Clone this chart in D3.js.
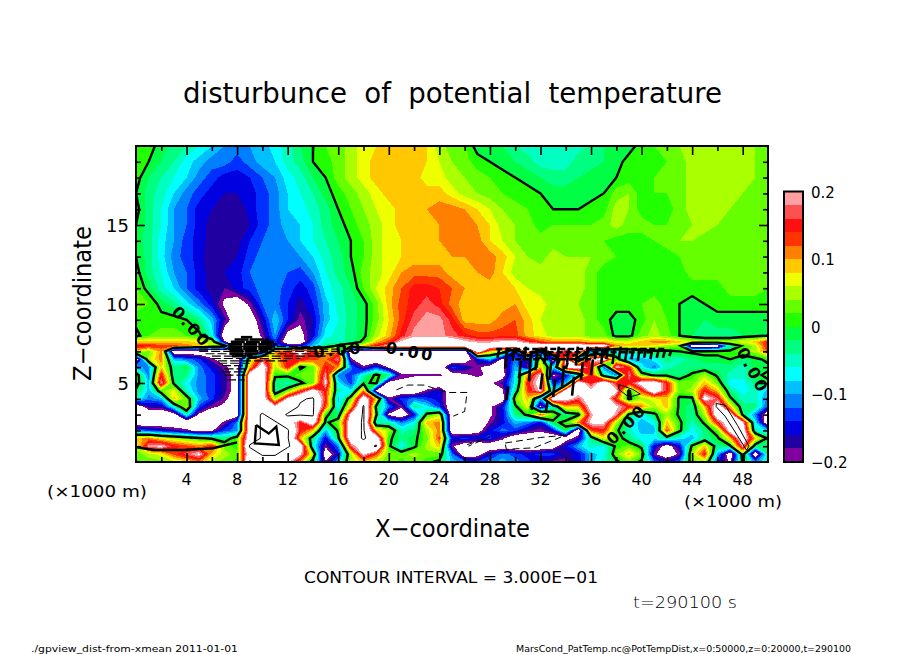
<!DOCTYPE html>
<html><head><meta charset="utf-8">
<script src="https://cdn.jsdelivr.net/npm/d3@7"></script>
<style>html,body{margin:0;background:#fff}svg{display:block}text{font-family:"DejaVu Sans";fill:#000}</style>
</head><body><svg id="c" width="904" height="654"></svg>
<script>
const zLevels=[20,19,18,17,16,15,14,13,12,11,10,9,8,7.6,7.35,7,6.5,6,5.5,5,4.5,4,3.5,3,2.5,2,1.5,1,0.5,0];
const xTicks=[4,8,12,16,20,24,28,32,36,40,44,48];
const zTicks=[5,10,15];
const barLabels=["0.2","0.1","0","−0.1","−0.2"];
const barValues=[0.2,0.1,0,-0.1,-0.2];
const bandColors=["#8000a0","#2000a0","#0000e0","#0030ff","#0080ff","#00bfff","#00ffff","#00ffc0","#00ff80","#00ff44","#22ff00","#66ff00","#aaff00","#eeff00","#ffc800","#ff8000","#ff3300","#ff1010","#ff5050","#ffa0a0"];
// potential temperature disturbance in 0.01 K, columns x = 0..24 km
const tempLeft=[
[2,1,-1,-3,-4,-6,-8,-10,-11,-10,-9,-7,-5,-2,0,2,3,5,7,8,9,10,9,8,5],
[1,0,-2,-4,-7,-9,-11,-11,-13,-11,-9,-8,-5,-3,0,1,3,5,7,9,9,9,9,8,6],
[1,-2,-4,-6,-8,-11,-13,-15,-15,-14,-12,-10,-7,-5,-2,0,3,5,7,9,9,9,9,7,7],
[0,-3,-5,-8,-11,-13,-15,-16,-16,-15,-13,-11,-8,-6,-4,-1,1,3,5,7,9,9,9,9,9],
[1,-3,-6,-10,-12,-15,-16,-17,-18,-15,-13,-11,-8,-7,-5,-3,0,2,4,6,7,9,9,10,11],
[0,-3,-6,-10,-12,-15,-17,-18,-18,-16,-13,-11,-9,-8,-6,-3,-1,1,3,5,7,9,9,9,10],
[-1,-3,-7,-10,-13,-15,-17,-18,-17,-14,-12,-11,-10,-8,-6,-4,-2,0,2,5,7,8,9,9,10],
[0,-3,-7,-11,-13,-15,-18,-17,-16,-13,-11,-11,-11,-10,-8,-5,-3,0,2,5,7,8,9,9,9],
[1,-3,-6,-10,-12,-15,-17,-16,-15,-12,-11,-11,-12,-13,-10,-6,-3,-1,3,5,7,10,11,11,11],
[2,-1,-5,-8,-12,-15,-17,-18,-15,-13,-11,-11,-13,-15,-13,-7,-5,-2,2,6,9,12,15,15,14],
[3,2,-1,-3,-7,-11,-15,-21,-24,-19,-12,-11,-14,-17,-14,-9,-5,-3,-1,3,9,13,15,17,15],
[1,1,1,1,0,-3,-9,-17,-24,-24,-16,-8,-14,-19,-16,-9,-6,-3,-1,3,8,13,17,19,19],
[-1,2,3,3,2,1,-6,-24,-25,-25,-19,-10,-22,-22,-15,-7,-5,-3,-1,5,9,15,19,19,19],
[9,9,9,9,9,7,5,-19,-25,-25,-21,-13,-25,-25,-11,-5,-5,-3,1,9,13,21,25,25,25],
[15,15,13,13,11,9,5,3,-25,-25,-25,-13,-15,-15,-9,-3,1,5,9,15,21,25,25,25,25],
[9,3,11,-25,-25,-25,-25,-25,-25,-25,-25,11,15,25,15,9,11,-25,-25,-25,-25,-25,-25,-25,-25],
[-25,5,11,-9,-11,-13,-19,-23,-25,5,17,7,15,15,13,11,19,-19,-25,-25,-21,-25,-25,-25,-25],
[-9,-11,9,-3,-1,-11,-15,-19,-23,9,25,5,15,-1,3,15,11,-11,-19,-13,-21,-25,-25,-25,-25],
[3,-11,15,-3,-3,-11,-13,-17,-23,25,25,1,1,3,3,19,-11,-13,-5,1,-3,-19,-19,-19,-19],
[3,-9,19,-1,-7,-11,-13,-17,-23,25,25,-3,-5,-1,3,21,-7,-13,-1,1,-23,-21,-25,-25,-25],
[-1,-9,3,7,-5,-11,-13,-17,-23,25,25,-3,3,13,23,15,-5,-7,11,-21,-25,-25,-25,-19,-15],
[-5,-11,-9,9,3,-9,-13,-19,-23,25,25,5,21,29,31,15,-9,3,25,9,-19,-13,-11,-13,-15],
[-25,-17,-17,-5,5,-13,-19,-21,-23,25,25,21,25,31,31,13,-7,9,31,-1,-11,-19,-3,-7,-13],
[-25,-25,-25,-23,-5,-21,-25,-25,-23,25,31,25,31,31,31,1,-3,21,31,1,-21,-25,-15,1,5],
[-25,-25,-25,-25,-25,-25,-25,-19,-11,25,31,31,25,15,25,-1,3,25,31,-5,-5,-11,-7,9,11],
[-11,-13,-15,-17,-19,-23,-21,-13,-11,25,31,31,31,15,9,-9,1,25,31,9,5,-5,-3,5,11],
[9,11,7,5,3,1,-1,-3,3,25,31,31,31,9,-3,-15,-1,25,31,25,1,-3,-1,3,13],
[5,19,21,15,13,11,15,3,1,31,31,31,31,25,-5,-19,-11,17,25,31,1,-7,-1,5,9],
[3,5,7,13,17,21,9,5,3,25,31,31,25,21,5,-25,-15,5,21,13,3,3,5,3,3],
[1,3,3,5,7,11,5,3,1,31,25,25,21,11,-3,-19,-9,5,9,5,3,1,3,1,-1]];
// columns x = 25..50 km
const tempRight=[
[3,2,-1,-1,-2,-4,-5,-5,-5,-5,-5,-3,-2,-1,-1,1,2,3,4,5,5,5,5,5,4,3],
[4,3,1,0,-1,-2,-3,-5,-5,-5,-3,-3,-2,-1,1,1,1,2,3,5,5,5,5,5,4,3],
[5,4,3,2,1,0,-1,-2,-3,-3,-2,-1,-1,0,1,1,2,2,3,5,5,5,5,5,4,3],
[7,5,4,3,2,1,1,0,-1,-1,-1,-1,0,3,4,1,2,2,3,5,5,5,5,4,3,3],
[11,10,8,6,4,3,2,1,0,0,0,1,1,5,4,1,1,1,3,5,5,5,4,3,2,2],
[11,11,10,8,5,4,3,1,2,2,2,2,3,5,3,3,2,2,3,4,5,4,3,4,3,2],
[11,11,11,8,6,4,3,3,3,3,3,3,2,1,1,1,2,3,4,4,3,3,3,2,2,2],
[10,10,11,11,9,6,4,3,5,4,4,4,3,2,1,1,1,1,2,2,3,3,3,3,2,2],
[9,9,10,11,8,5,5,5,5,5,5,3,1,1,1,1,1,1,1,3,3,3,3,3,3,2],
[12,10,9,9,9,8,6,5,5,5,5,3,1,1,1,1,1,1,1,1,1,1,3,3,3,2],
[11,9,9,9,9,10,7,7,5,5,4,3,1,1,1,2,3,1,0,-1,0,1,1,1,1,1],
[15,9,9,9,11,12,9,6,5,6,5,3,1,-1,-1,1,4,2,0,-1,-2,-1,-1,-1,-1,-1],
[17,15,13,13,13,13,9,7,5,5,5,3,3,-1,-1,3,5,3,0,-2,-3,-3,-3,-2,-1,0],
[25,21,19,19,21,21,17,13,11,11,11,9,9,7,7,9,11,11,9,7,5,5,5,7,9,15],
[25,25,25,25,25,25,25,25,25,25,25,25,25,11,9,9,7,5,3,-25,-25,-23,-5,1,5,15],
[-25,-25,25,9,5,-15,25,-15,25,15,25,-13,-11,-7,-5,-3,-1,-1,0,1,1,1,1,3,5,13],
[-25,-25,-15,-9,-21,-11,-17,5,-25,21,-9,21,25,3,-9,-9,-7,-3,-5,-3,-1,-1,0,-3,-1,1],
[-13,-15,-19,-23,-21,-9,-19,9,-7,21,25,15,-11,21,15,-7,-11,-5,-3,-3,-3,-3,-3,-5,-1,-1],
[-23,-21,-19,-21,-23,-7,11,21,-21,-15,-5,15,-3,-11,19,3,-1,-1,-3,1,5,-1,-5,-5,-1,1],
[-25,-25,-23,-21,-17,-7,15,23,-15,-9,25,15,25,15,15,23,25,15,3,3,9,3,-7,-7,-3,-1],
[-25,-25,-25,-25,-21,-3,13,21,-7,23,23,21,25,21,-1,13,25,15,3,5,15,9,-3,-7,-5,-9],
[-25,-25,-25,-25,-23,3,9,-9,25,23,17,25,25,13,-1,5,7,9,-1,-1,23,17,1,-5,-5,-11],
[-25,-25,-25,-21,-15,-1,7,-21,-5,9,9,23,25,21,15,11,5,9,-1,-3,9,25,9,-3,-3,-13],
[-25,-25,-25,-21,-15,-3,1,13,3,-3,-1,19,25,19,-1,-7,-1,5,-1,-3,5,25,23,-1,-11,-25],
[-25,-25,-25,-19,-15,-9,-11,-15,-1,1,11,21,21,5,-5,-9,-7,9,1,-5,1,15,25,21,-7,-25],
[-25,-25,-23,-15,-11,-13,-17,-19,-15,-1,-25,13,15,1,-5,-9,-9,13,1,-7,-3,3,23,25,-5,-9],
[-15,-13,-15,-13,-19,-25,-25,-25,-25,-23,-17,-3,7,3,-3,-7,-7,-3,-7,-9,-3,-1,9,25,9,-1],
[-19,-25,-25,-25,-25,-25,-25,-25,-23,-15,-9,-5,-7,1,3,-1,-15,-23,-15,1,9,-3,-1,19,-3,-3],
[-11,-25,-23,-15,-11,-13,-15,-13,-13,-17,-15,-9,-7,3,9,3,-19,-25,-19,5,15,-9,-25,3,-25,-3],
[-9,-11,-13,-11,-9,-11,-13,-17,-19,-19,-15,-9,-5,-1,3,-1,-11,-15,-11,3,5,-13,-21,1,-11,-5]];
const temps=tempLeft.map((r,i)=>r.concat(tempRight[i]));
// extra thick zero lines [x km, z km]
const thickLines=[
[[9.5,2.34],[9.4,1.18],[11.3,1.08],[11.1,2.24],[10.5,1.8],[9.5,2.34]],
[[0.05,0.93],[1.4,0.76],[3.75,0.76],[6.1,0.87],[8,1.24]]];
// thin positive loops inside saturated areas
const thinLines=[
[[45.9,3.5],[46.6,2.9],[47.4,1.9],[48.3,0.75],[48.5,1],[47.6,2.3],[46.6,3.6],[45.9,3.7],[45.9,3.5]],
[[38.2,4.9],[39.3,4.6],[39.9,4.3],[39,4.1],[38.2,4.6],[38.2,4.9]]];
// dashed negative lines inside saturated areas
const dashLines=[
[[20.6,4.56],[21.5,4.87],[22.8,4.87],[24.6,4.4],[26.2,4.4],[26,3.2],[25.1,2.9]],
[[26.2,1.1],[27.8,1.5],[28,1.6],[26.3,1.0]],
[[29.2,1.2],[32,1.55],[34,1.7],[31.5,0.9],[29.3,0.8],[29.2,1.2]]];
// tight stacks of contours just below the inversion: [x start, x end, z]
const hatchRows=[
[4.5,17,7.3],[5,18,7.15],[5,17,7.0],[5.5,16.5,6.85],[6,15,6.7],[6,13,6.55],[6.5,12,6.4],[6.5,9,6.25],[6.8,8.8,6.1],[7,8.8,5.9],[6.8,8.6,5.7],[7,8.8,5.5],[7.2,8.6,5.2]];
const hatchThick=[[8.3,9.2,7.9],[7.8,10.5,7.75],[7.5,10.9,7.6],[7.3,11.2,7.45],[7.3,11,7.3],[7.3,10.8,7.15],[7.4,10.4,7],[7.4,9.6,6.85],[7.6,9.2,6.7],[28.5,42,7.15],[29,41,6.95],[29.5,38,6.75],[30,36,6.5]];
// broken contour squiggles of the unstable layer: [x km, z low, z high]
const squiggles=[[28.6,6.6,7.2],[29.2,5.9,7.1],[29.8,6.4,7.2],[30.3,5.3,6.4],[30.7,6.4,7.3],[31.1,5.1,6.9],[31.6,5.8,7.2],[32,4.6,5.6],[32.3,6.2,7.3],[32.7,5.2,6.3],[33,4.1,5.2],[33.3,6,7.3],[33.7,4.7,6.1],[34.1,6.3,7.2],[34.5,4.2,5.4],[34.8,6.1,7.3],[35.2,5.2,6.3],[35.6,6.3,7.3],[36,5.5,6.5],[36.3,6.5,7.3],[36.8,6.2,7.2],[37.2,6.5,7.3],[37.7,6.2,7.2],[38.2,6.5,7.3],[38.7,6.4,7.2],[39.2,6.5,7.2],[39.7,6.4,7.2],[40.2,6.6,7.2],[40.7,6.5,7.2],[41.2,6.6,7.1],[41.7,6.6,7.1],[42.2,6.7,7.1],[31.3,3.3,4],[32.4,3.1,3.8],[29.3,3.9,4.8],[34,5.9,6.3]];
const labelX=[4.4,16,21.7,48.8,38.8];
const labelZ=[8.55,7.1,7.0,5.8,2.4];
const labelAngle=[48,-5,10,62,-45];

const svg=d3.select("#c");
const L=136,R=768,T=146,B=462;
const x=d3.scaleLinear().domain([0,50]).range([L,R]);
const z=d3.scaleLinear().domain([0,20]).range([B,T]);
const rowZ=d3.scaleLinear().domain(zLevels.map((d,i)=>i+0.5)).range(zLevels);
const proj=d3.geoTransform({point(a,b){this.stream.point(x(a-0.5),z(rowZ(b)));}});
const path=d3.geoPath(proj);
const nx=temps[0].length,ny=temps.length,flat=temps.flat();
const contours=d3.contours().size([nx,ny]).smooth(true);
const thresholds=d3.range(-20,20,2);
const color=d3.scaleOrdinal().domain(thresholds).range(bandColors);
svg.append("clipPath").attr("id","pc").append("rect").attr("x",L).attr("y",T).attr("width",R-L).attr("height",B-T);
const g=svg.append("g").attr("clip-path","url(#pc)");
g.append("g").selectAll("path").data(thresholds.concat([20])).join("path")
 .attr("d",t=>path(contours.contour(flat,t)))
 .attr("fill",t=>t>=20?"#fff":color(t)).attr("shape-rendering","crispEdges");
// contour lines
const lines=[[0,2.4,null],[30,1,null],[-30,1,"5,4"]];
g.append("g").selectAll("path").data(lines).join("path")
 .attr("d",d=>path(contours.contour(flat,d[0]))).attr("fill","none").attr("stroke","#000")
 .attr("stroke-width",d=>d[1]).attr("stroke-dasharray",d=>d[2]);
const ln=d3.line().x(d=>x(d[0])).y(d=>z(d[1]));
g.selectAll("path.th").data(thickLines).join("path").attr("class","th").attr("d",ln).attr("fill","none").attr("stroke","#000").attr("stroke-width",2.4);
g.selectAll("path.tn").data(thinLines).join("path").attr("class","tn").attr("d",ln).attr("fill","none").attr("stroke","#000").attr("stroke-width",1);
g.selectAll("path.da").data(dashLines).join("path").attr("class","da").attr("d",ln).attr("fill","none").attr("stroke","#000").attr("stroke-width",1).attr("stroke-dasharray","7,4");
g.selectAll("line.h").data(hatchRows).join("line").attr("class","h")
 .attr("x1",d=>x(d[0])).attr("x2",d=>x(d[1])).attr("y1",d=>z(d[2])).attr("y2",d=>z(d[2]))
 .attr("stroke","#000").attr("stroke-width",1.2).attr("stroke-dasharray","9,3");
g.selectAll("line.k").data(hatchThick).join("line").attr("class","k")
 .attr("x1",d=>x(d[0])).attr("x2",d=>x(d[1])).attr("y1",d=>z(d[2])).attr("y2",d=>z(d[2]))
 .attr("stroke","#000").attr("stroke-width",d=>d[0]>20?2.4:2.6).attr("stroke-dasharray",d=>d[0]>20?"6,3":"14,1");
g.selectAll("line.s").data(squiggles).join("line").attr("class","s")
 .attr("x1",d=>x(d[0])).attr("x2",d=>x(d[0]+0.15)).attr("y1",d=>z(d[1])).attr("y2",d=>z(d[2]))
 .attr("stroke","#000").attr("stroke-width",2.6);
// zero labels on contours
labelX.forEach((v,i)=>{
 g.append("text").attr("transform",`translate(${x(v)},${z(labelZ[i])}) rotate(${labelAngle[i]})`)
  .attr("text-anchor","middle").attr("dy","0.36em").attr("font-size",16).attr("font-weight","bold")
  .attr("letter-spacing",2.5).text("0.00");
});
// frame and axes
svg.append("rect").attr("x",L).attr("y",T).attr("width",R-L).attr("height",B-T).attr("fill","none").attr("stroke","#000").attr("stroke-width",2);
function ticks(axis,tr,vals,size){
 svg.append("g").attr("transform",tr).call(axis.tickValues(vals).tickSize(size).tickFormat(""))
  .call(s=>s.select(".domain").remove()).call(s=>s.selectAll("line").attr("stroke","#000").attr("stroke-width",1.6));
}
const minorX=d3.range(2,50,2).filter(d=>d%4),minorZ=d3.range(1,20).filter(d=>d%5);
const majorZ=[5,10,15];
ticks(d3.axisTop(x),`translate(0,${B})`,xTicks,9);ticks(d3.axisTop(x),`translate(0,${B})`,minorX,5);
ticks(d3.axisBottom(x),`translate(0,${T})`,xTicks,9);ticks(d3.axisBottom(x),`translate(0,${T})`,minorX,5);
ticks(d3.axisRight(z),`translate(${L},0)`,majorZ,9);ticks(d3.axisRight(z),`translate(${L},0)`,minorZ,5);
ticks(d3.axisLeft(z),`translate(${R},0)`,majorZ,9);ticks(d3.axisLeft(z),`translate(${R},0)`,minorZ,5);
function txt(s,px,py,size,width,opt={}){
 const t=svg.append("text").attr("x",px).attr("y",py).attr("font-size",size).text(s);
 if(width)t.attr("textLength",width).attr("lengthAdjust","spacingAndGlyphs");
 if(opt.anchor)t.attr("text-anchor",opt.anchor);
 if(opt.rot)t.attr("transform",`rotate(${opt.rot},${px},${py})`);
 return t;
}
xTicks.forEach(v=>txt(v,x(v),485,16,null,{anchor:"middle"}));
zTicks.forEach(v=>txt(v,129,z(v)+7,18,null,{anchor:"end"}));
txt("disturbunce of potential temperature",183,103,29,539).attr("word-spacing",9);
txt("X−coordinate",375,537,24,155);
txt("Z−coordinate",91,381,24,155,{rot:-90});
txt("(×1000 m)",47,497,15,100);
txt("(×1000 m)",684,507,15,98);
txt("CONTOUR INTERVAL = 3.000E−01",304,583,16,294);
txt("t=290100 s",633,608,15,104).attr("font-weight",200);
txt("./gpview_dist-from-xmean  2011-01-01",31,652,9,207);
txt("MarsCond_PatTemp.nc@PotTempDist,x=0:50000,z=0:20000,t=290100",516,652,9,335);
// colour bar
const barY=d3.scaleLinear().domain([-0.2,0.2]).range([462,191.5]);
const barVals=d3.range(0,20);
svg.append("g").selectAll("rect").data(barVals).join("rect")
 .attr("x",784).attr("width",19).attr("y",i=>barY(-0.2+0.02*(i+1))).attr("height",i=>barY(-0.2+0.02*i)-barY(-0.2+0.02*(i+1)))
 .attr("fill",i=>bandColors[i]).attr("shape-rendering","crispEdges");
svg.append("rect").attr("x",784).attr("y",191.5).attr("width",19).attr("height",270.5).attr("fill","none").attr("stroke","#000").attr("stroke-width",2);
barLabels.forEach((s,i)=>txt(s,811,barY(barValues[i])+6,15));
</script></body></html>
